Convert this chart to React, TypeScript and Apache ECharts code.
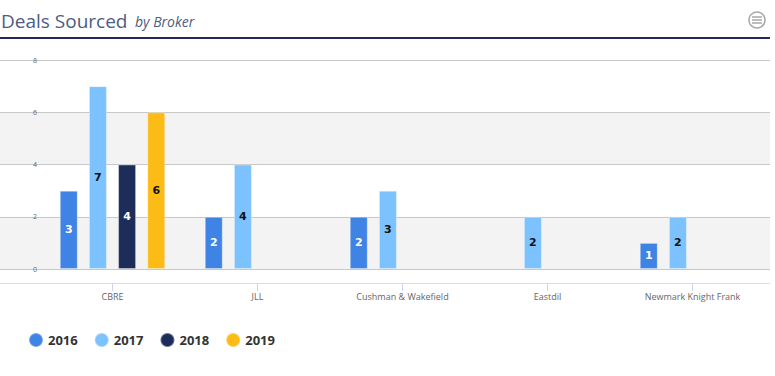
import React, { useEffect, useRef } from "react";
import * as echarts from "echarts";

const categories = ["CBRE", "JLL", "Cushman & Wakefield", "Eastdil", "Newmark Knight Frank"];
const years = ["2016", "2017", "2018", "2019"];
const s2016 = [3, 2, 2, null, 1];
const s2017 = [7, 4, 3, 2, 2];
const s2018 = [4, null, null, null, null];
const s2019 = [6, null, null, null, null];
const yTicks = { min: 0, max: 8, interval: 2 };

const colors = ["#3f83e4", "#7cc2ff", "#1c2d5a", "#fdbb16"];
const labelColors = ["#ffffff", "#111111", "#ffffff", "#111111"];

export default function App() {
  const ref = useRef<HTMLDivElement>(null);
  useEffect(() => {
    if (!ref.current) return;
    const chart = echarts.init(ref.current, undefined, { renderer: "svg" });
    const seriesData = [s2016, s2017, s2018, s2019];
    const font = "'Open Sans', sans-serif";
    chart.setOption({
      animation: false,
      textStyle: { fontFamily: font },
      grid: [
        { left: 0, right: 5, top: 60, bottom: 107 },
        { left: 40, right: 10, top: 60, bottom: 107 },
      ],
      xAxis: [
        {
          gridIndex: 0,
          type: "category",
          data: [""],
          offset: 14,
          axisLine: { show: true, onZero: false, lineStyle: { color: "#d3def0", width: 1 } },
          axisTick: { show: false },
          axisLabel: { show: false },
          splitLine: { show: false },
        },
        {
          gridIndex: 1,
          type: "category",
          data: categories,
          offset: 14,
          axisLine: { show: false, onZero: false },
          axisTick: { show: true, alignWithLabel: true, length: 8, lineStyle: { color: "#c9d6ea" } },
          axisLabel: { color: "#666666", fontSize: 9, margin: 9, fontFamily: font },
        },
      ],
      yAxis: [
        {
          gridIndex: 0,
          type: "value",
          ...yTicks,
          axisLine: { show: false },
          axisTick: { show: false },
          axisLabel: { show: false },
          splitLine: { show: true, lineStyle: { color: "#c8c8c8", width: 1 } },
          splitArea: { show: true, areaStyle: { color: ["#f3f3f3", "rgba(255,255,255,0)"] } },
        },
        {
          gridIndex: 1,
          type: "value",
          ...yTicks,
          axisLine: { show: false },
          axisTick: { show: false },
          splitLine: { show: false },
          axisLabel: { color: "#666666", fontSize: 7, margin: 3, fontFamily: font },
        },
      ],
      legend: {
        left: 23,
        top: 327,
        icon: "circle",
        itemWidth: 14,
        itemHeight: 14,
        itemGap: 16,
        textStyle: { fontSize: 13, fontWeight: "bold", color: "#333333", fontFamily: font },
        data: years,
      },
      series: years.map((y, i) => ({
        name: y,
        type: "bar",
        xAxisIndex: 1,
        yAxisIndex: 1,
        data: seriesData[i],
        barWidth: 18,
        barGap: "62%",
        itemStyle: { color: colors[i], borderColor: "rgba(255,255,255,0.35)", borderWidth: 1 },
        label: {
          show: true,
          position: "inside",
          color: labelColors[i],
          fontSize: 11,
          fontWeight: "bold",
          fontFamily: "'DejaVu Sans', sans-serif",
        },
      })),
      graphic: [
        {
          type: "text",
          left: 1,
          top: 11,
          style: { text: "Deals Sourced", fontSize: 19, fill: "#4c5d80", fontFamily: font },
        },
        {
          type: "text",
          left: 135,
          top: 14,
          style: { text: "by Broker", fontSize: 14, fontStyle: "italic", fill: "#4c5d80", fontFamily: font },
        },
        {
          type: "rect",
          shape: { x: 0, y: 37, width: 770, height: 2 },
          style: { fill: "#1f2d52" },
        },
        {
          type: "circle",
          shape: { cx: 757, cy: 20, r: 8 },
          style: { fill: "#ffffff", stroke: "#a8a8a8", lineWidth: 1.5 },
        },
        { type: "line", shape: { x1: 752, y1: 17, x2: 762, y2: 17 }, style: { stroke: "#a8a8a8", lineWidth: 1.5 } },
        { type: "line", shape: { x1: 752, y1: 20, x2: 762, y2: 20 }, style: { stroke: "#a8a8a8", lineWidth: 1.5 } },
        { type: "line", shape: { x1: 752, y1: 23, x2: 762, y2: 23 }, style: { stroke: "#a8a8a8", lineWidth: 1.5 } },
      ],
    });
    return () => chart.dispose();
  }, []);
  return (
    <div
      ref={ref}
      style={{ position: "absolute", left: 0, top: 0, width: 775, height: 376 }}
    />
  );
}
